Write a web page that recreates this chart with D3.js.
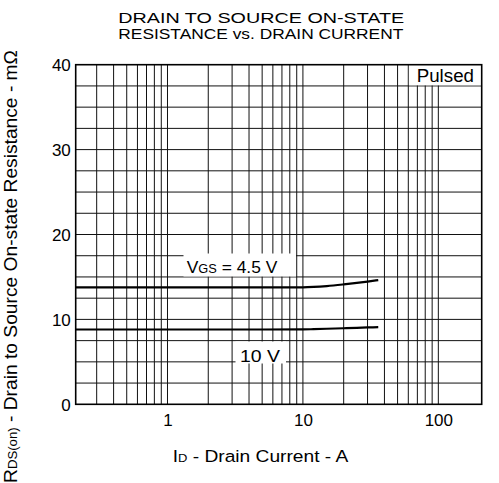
<!DOCTYPE html>
<html>
<head>
<meta charset="utf-8">
<script src="https://cdn.jsdelivr.net/npm/d3@7"></script>
<style>
  html, body { margin: 0; padding: 0; background: #fff; }
  svg { display: block; }
  text { font-family: "Liberation Sans", Arial, Helvetica, sans-serif; fill: #000; }
</style>
</head>
<body>
<svg id="chart" width="499" height="483"></svg>
<script>
// ---- data ----
const xTickValues = [1, 10, 100];
const xTickLabels = ["1", "10", "100"];
const yTickValues = [0, 10, 20, 30, 40];
const yTickLabels = ["0", "10", "20", "30", "40"];
const xGridValues = [0.3, 0.4, 0.5, 0.6, 0.7, 0.8, 0.9,
                     1, 2, 3, 4, 5, 6, 7, 8, 9,
                     10, 20, 30, 40, 50, 60, 70, 80, 90, 100];
const yGridValues = [2.5, 5, 7.5, 10, 12.5, 15, 17.5, 20, 22.5, 25, 27.5, 30, 32.5, 35, 37.5];
const drainCurrent = [0.21, 1, 5, 10, 12, 15, 20, 25, 30, 36];
const rdsVgs45 = [13.77, 13.77, 13.77, 13.78, 13.82, 13.92, 14.12, 14.30, 14.46, 14.63];
const rdsVgs10 = [8.81, 8.81, 8.81, 8.82, 8.85, 8.90, 8.96, 9.01, 9.05, 9.09];
const titleLines = ["DRAIN TO SOURCE ON-STATE", "RESISTANCE vs. DRAIN CURRENT"];

(function () {
const svg = d3.select("#chart");
const pL = 75.7, pR = 481.7, pT = 64.7, pB = 404.3;

const x = d3.scaleLog().domain([0.21, 209]).range([pL, pR]);
const y = d3.scaleLinear().domain([0, 40]).range([pB, pT]);

// grid
const grid = svg.append("g").attr("stroke", "#111").attr("stroke-width", 1);
grid.selectAll("line.v").data(xGridValues).join("line")
  .attr("class", "v")
  .attr("x1", d => x(d)).attr("x2", d => x(d))
  .attr("y1", pT).attr("y2", pB);
grid.selectAll("line.h").data(yGridValues).join("line")
  .attr("class", "h")
  .attr("x1", pL).attr("x2", pR)
  .attr("y1", d => y(d)).attr("y2", d => y(d));

// white boxes for labels
svg.append("rect").attr("x", 183.5).attr("y", 253.5).attr("width", 112.5).attr("height", 23).attr("fill", "#fff");
svg.append("rect").attr("x", 235.5).attr("y", 341.5).attr("width", 50.5).attr("height", 22).attr("fill", "#fff");
svg.append("rect").attr("x", x(60) + 0.6).attr("y", pT).attr("width", pR - x(60) - 0.6).attr("height", y(37.5) - pT - 0.6).attr("fill", "#fff");

// frame
svg.append("rect").attr("x", pL).attr("y", pT).attr("width", pR - pL).attr("height", pB - pT)
  .attr("fill", "none").attr("stroke", "#000").attr("stroke-width", 1.6);

// curves
const line = d3.line().x(d => x(d[0])).y(d => y(d[1])).curve(d3.curveMonotoneX);
[rdsVgs45, rdsVgs10].forEach(series => {
  svg.append("path")
    .datum(drainCurrent.map((c, i) => [c, series[i]]))
    .attr("fill", "none").attr("stroke", "#000").attr("stroke-width", 2.2)
    .attr("d", line);
});

// axis tick labels
const xAxis = d3.axisBottom(x).tickValues(xTickValues).tickFormat((d, i) => xTickLabels[i]).tickSize(0).tickPadding(0);
const gx = svg.append("g").attr("transform", `translate(0,${pB})`).call(xAxis);
gx.select(".domain").remove();
gx.selectAll("text").attr("y", 21.7).attr("dy", null).attr("font-size", 17)
  .style("font-family", '"Liberation Sans", Arial, sans-serif').attr("fill", "#000");

const yAxis = d3.axisLeft(y).tickValues(yTickValues).tickFormat((d, i) => yTickLabels[i]).tickSize(0).tickPadding(0);
const gy = svg.append("g").attr("transform", `translate(70.8,0)`).call(yAxis);
gy.select(".domain").remove();
gy.selectAll("text").attr("x", 0).attr("dy", "0.36em").attr("font-size", 17)
  .style("font-family", '"Liberation Sans", Arial, sans-serif').attr("fill", "#000");

// title (two lines, stretched horizontally to match)
svg.selectAll("text.title").data(titleLines).join("text")
  .attr("class", "title")
  .attr("x", 118.3).attr("y", (d, i) => i === 0 ? 22.6 : 38.8)
  .attr("font-size", 14.2)
  .attr("textLength", (d, i) => i === 0 ? 286 : 285)
  .attr("lengthAdjust", "spacingAndGlyphs")
  .text(d => d);

// x axis title
const xt = svg.append("text").attr("x", 172.7).attr("y", 461.7).attr("font-size", 16.3)
  .attr("textLength", 175.6).attr("lengthAdjust", "spacingAndGlyphs");
xt.append("tspan").text("I");
xt.append("tspan").attr("font-size", 11).text("D");
xt.append("tspan").text(" - Drain Current - A");

// y axis title
const yt = svg.append("text").attr("transform", "translate(17.3,483) rotate(-90) scale(1,1.15)")
  .attr("font-size", 16).attr("textLength", 433).attr("lengthAdjust", "spacingAndGlyphs");
yt.append("tspan").text("R");
yt.append("tspan").attr("font-size", 11).text("DS(on)");
yt.append("tspan").text(" - Drain to Source On-state Resistance - m\u03A9");

// series labels
const l1 = svg.append("text").attr("x", 186.7).attr("y", 273.3).attr("font-size", 17)
  .attr("textLength", 90.6).attr("lengthAdjust", "spacingAndGlyphs");
l1.append("tspan").text("V");
l1.append("tspan").attr("font-size", 12.5).text("GS");
l1.append("tspan").text(" = 4.5 V");

svg.append("text").attr("x", 240).attr("y", 361.7).attr("font-size", 17)
  .attr("textLength", 40).attr("lengthAdjust", "spacingAndGlyphs").text("10 V");

svg.append("text").attr("x", 416.7).attr("y", 82.3).attr("font-size", 17.5)
  .attr("textLength", 57.3).attr("lengthAdjust", "spacingAndGlyphs").text("Pulsed");
})();
</script>
</body>
</html>
